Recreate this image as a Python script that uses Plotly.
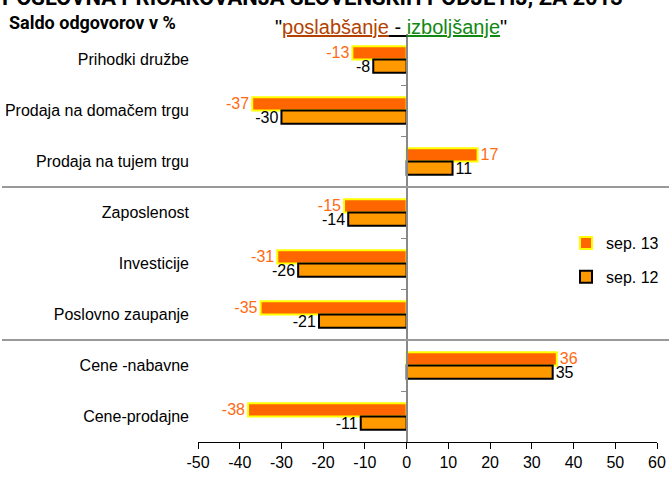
import plotly.graph_objects as go

categories = ["Prihodki družbe", "Prodaja na domačem trgu", "Prodaja na tujem trgu",
              "Zaposlenost", "Investicije", "Poslovno zaupanje",
              "Cene -nabavne", "Cene-prodajne"]
sep13 = [-13, -37, 17, -15, -31, -35, 36, -38]
sep12 = [-8, -30, 11, -14, -26, -21, 35, -11]
x_ticks = [-50, -40, -30, -20, -10, 0, 10, 20, 30, 40, 50, 60]
x_tick_labels = ["-50", "-40", "-30", "-20", "-10", "0", "10", "20", "30", "40", "50", "60"]
separators = [2.5, 5.5]
boundary_ticks = [0.5, 1.5, 2.5, 3.5, 4.5, 5.5, 6.5]

FONT = "Liberation Sans, Arial, sans-serif"
W, H = 669, 479
L, R, T, B = 198, 12, 34, 37
pw, ph = W - L - R, H - T - B

def px_x(p):
    return (p - L) / pw

def px_y(p):
    return (H - B - p) / ph

fig = go.Figure()
fig.add_trace(go.Bar(
    name="sep. 13", y=categories, x=sep13, orientation="h",
    marker=dict(color="#FF6600", line=dict(color="#FFFF00", width=2)),
    text=[str(v) for v in sep13], textposition="outside",
    textfont=dict(color="#FF6A13", size=16, family=FONT),
    constraintext="none", cliponaxis=False, legendgroup="a",
))
fig.add_trace(go.Bar(
    name="sep. 12", y=categories, x=sep12, orientation="h",
    marker=dict(color="#FF9900", line=dict(color="#000000", width=2)),
    text=[str(v) for v in sep12], textposition="outside",
    textfont=dict(color="#000000", size=16, family=FONT),
    constraintext="none", cliponaxis=False, legendgroup="b",
))
fig.add_trace(go.Scatter(x=[None], y=[None], yaxis="y2", showlegend=False, hoverinfo="skip"))

shapes = []
for s in separators:
    shapes.append(dict(type="line", xref="paper", yref="y", x0=px_x(2), x1=px_x(669),
                       y0=s, y1=s, line=dict(color="#999999", width=2), layer="above"))

annotations = [
    dict(text="<b>POSLOVNA PRIČAKOVANJA SLOVENSKIH PODJETIJ, ZA 2013</b>", xref="paper", yref="paper",
         x=px_x(0), y=px_y(-3), xanchor="left", yanchor="middle", showarrow=False,
         font=dict(family="Roboto, sans-serif", size=22, color="#000000")),
    dict(text="<b>Saldo odgovorov v %</b>", xref="paper", yref="paper",
         x=px_x(7), y=px_y(22), xanchor="left", yanchor="middle", showarrow=False,
         font=dict(family="Roboto, sans-serif", size=18, color="#000000")),
    dict(text='"<span style="color:#B34200"><u>poslabšanje</u></span><u> - </u>'
              '<span style="color:#118811"><u>izboljšanje</u></span>"',
         xref="paper", yref="paper", x=px_x(391), y=px_y(27), xanchor="center", yanchor="middle",
         showarrow=False, font=dict(family=FONT, size=20, color="#000000")),
]

fig.update_layout(
    width=W, height=H, margin=dict(l=L, r=R, t=T, b=B, autoexpand=False),
    paper_bgcolor="white", plot_bgcolor="white",
    barmode="group", bargap=0.48, bargroupgap=0,
    font=dict(family=FONT, size=15, color="#000000"),
    xaxis=dict(range=[-50, 60], tickvals=x_ticks, ticktext=x_tick_labels, ticks="outside",
               ticklen=6, tickcolor="#000000", automargin=False,
               showline=True, linecolor="#000000", linewidth=1, showgrid=False, zeroline=False,
               tickfont=dict(size=16, family=FONT, color="#000000")),
    yaxis=dict(range=[7.5, -0.5], type="category", showline=False, showgrid=False, zeroline=False,
               automargin=False,
               ticks="", ticklabelstandoff=8, tickfont=dict(size=16, family=FONT, color="#000000")),
    yaxis2=dict(overlaying="y", anchor="free", position=50 / 110, range=[7.5, -0.5],
                tickvals=boundary_ticks, ticks="outside", ticklen=5, tickcolor="#888888",
                showticklabels=False, showline=True, linecolor="#888888", linewidth=2,
                automargin=False,
                showgrid=False, zeroline=False, side="left"),
    legend=dict(x=px_x(566), y=px_y(226), xanchor="left", yanchor="top",
                traceorder="grouped", tracegroupgap=10, bgcolor="rgba(0,0,0,0)",
                font=dict(size=16, family=FONT, color="#000000"), itemwidth=30),
    shapes=shapes, annotations=annotations, showlegend=True,
)

fig.write_html("out.html", config={"displayModeBar": False},
               post_script="document.body.style.margin='0';")
